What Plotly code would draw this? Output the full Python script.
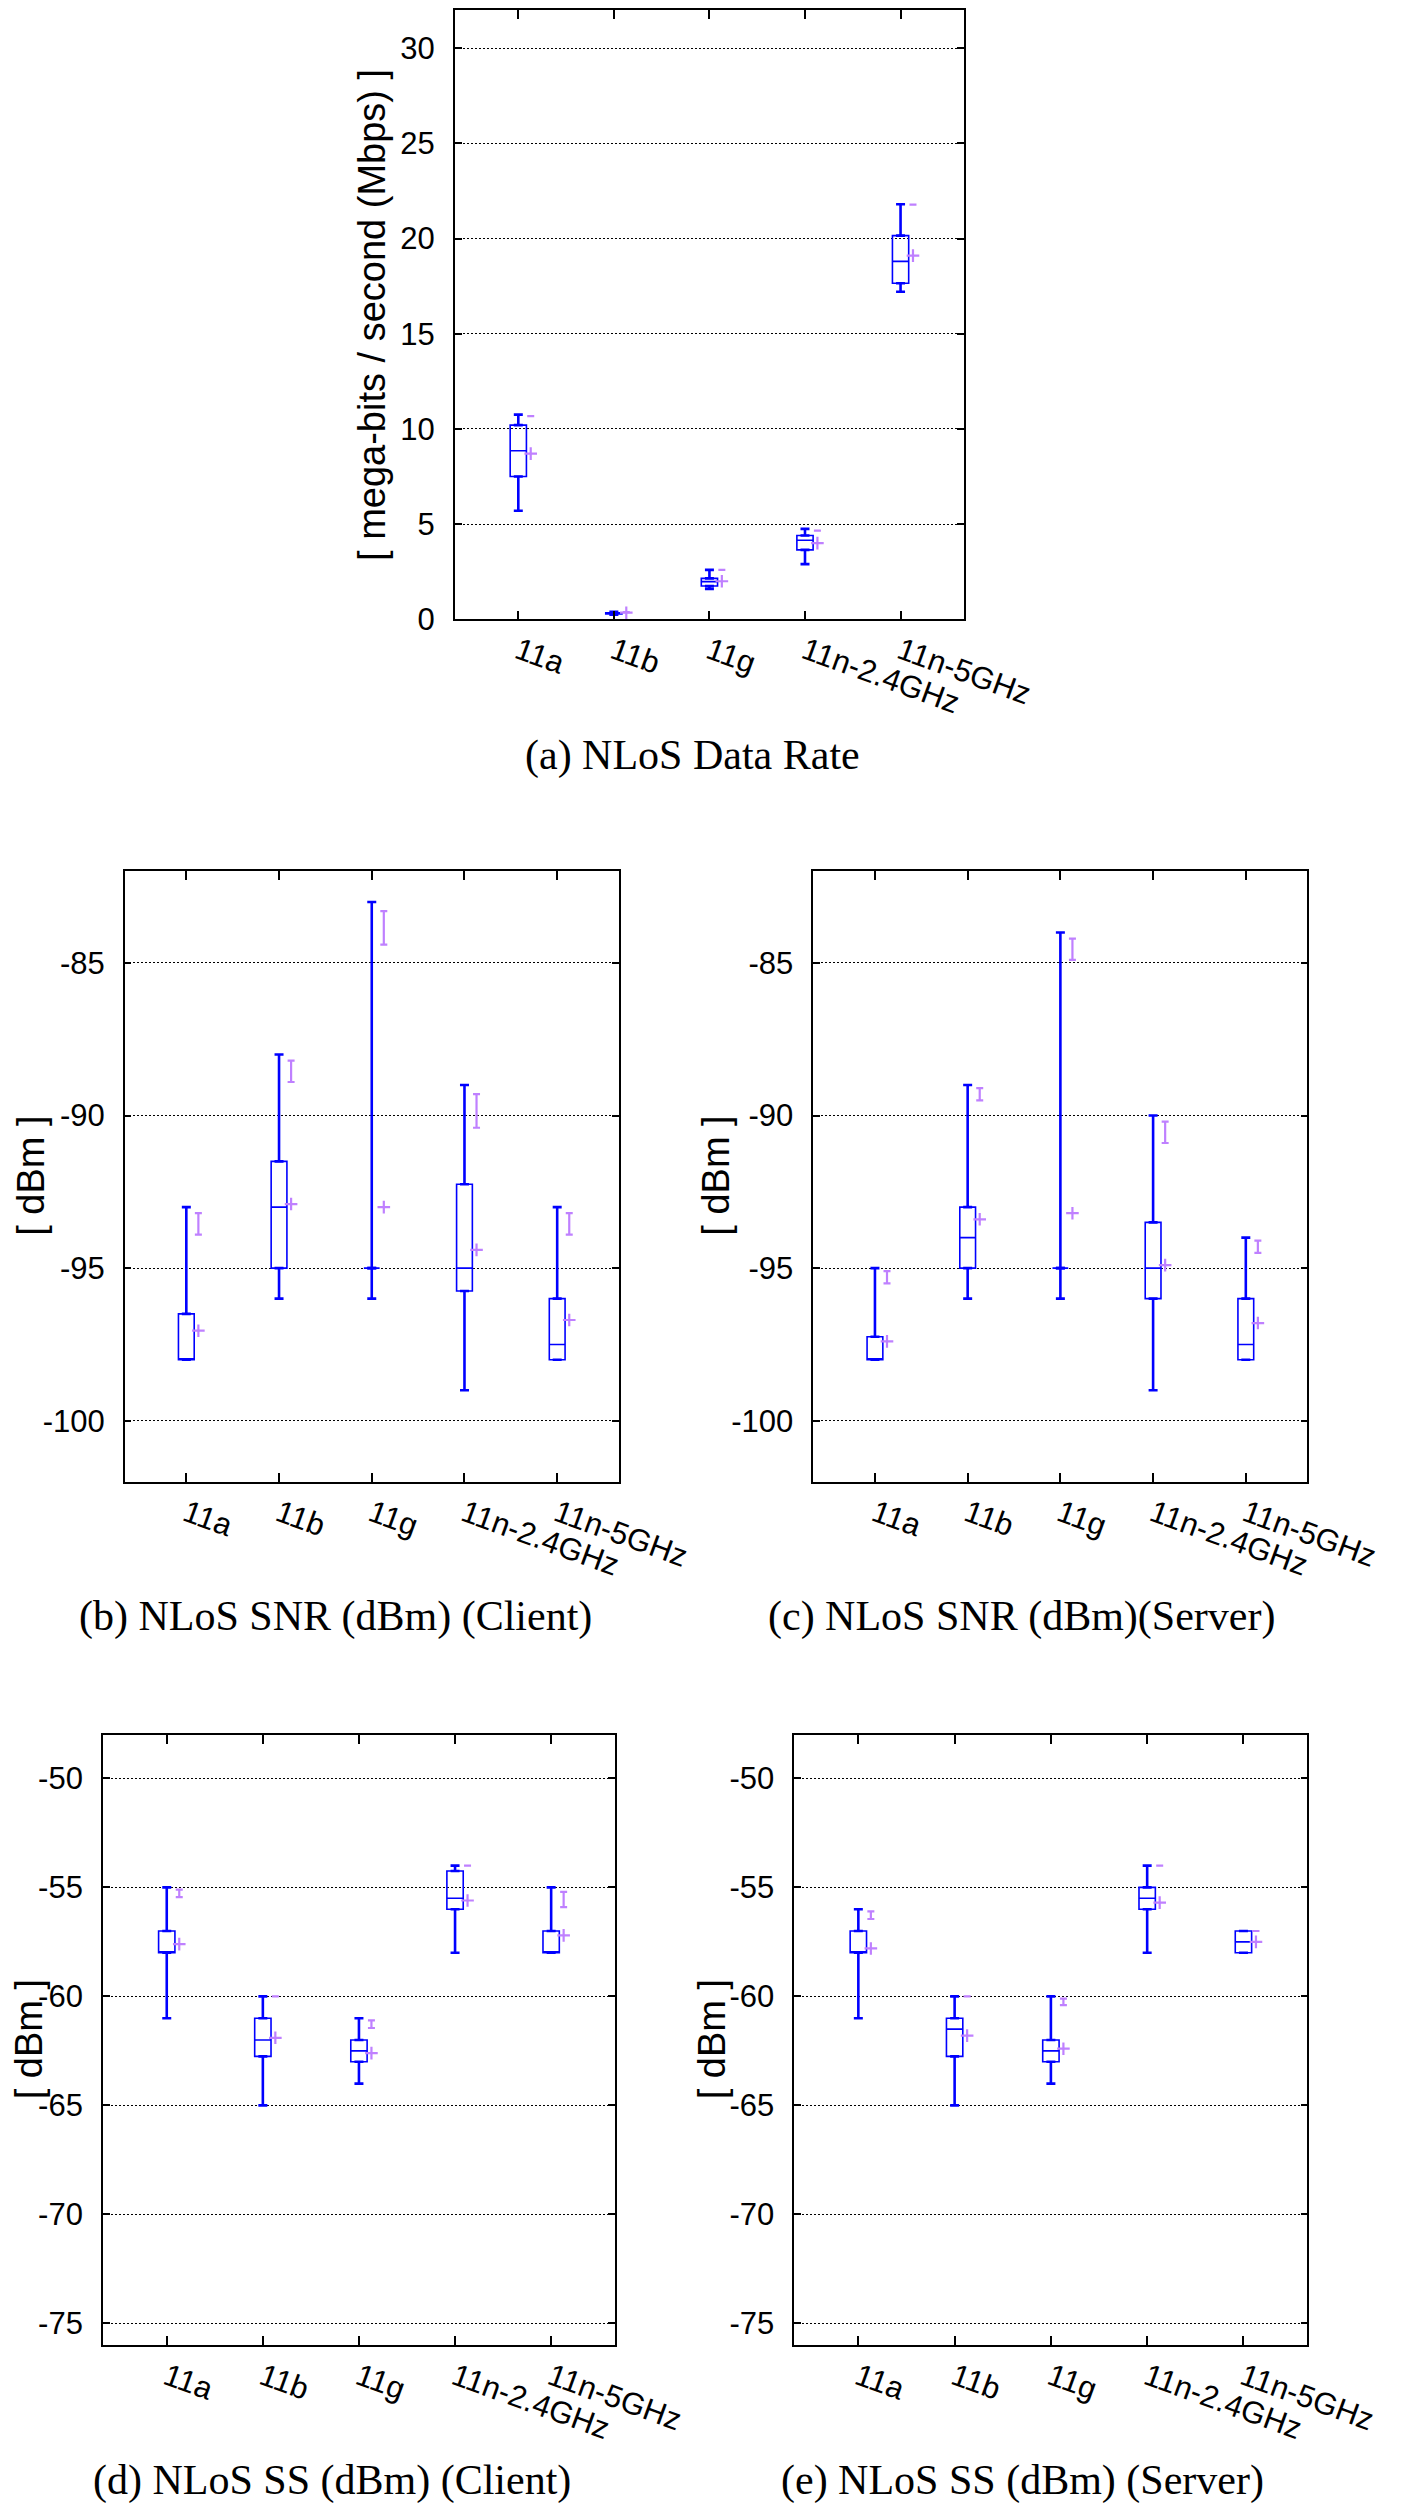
import plotly.graph_objects as go

# ---------------- data ----------------
categories = ["11a", "11b", "11g", "11n-2.4GHz", "11n-5GHz"]
positions = [1, 2, 3, 4, 5]

# (a) NLoS Data Rate (Mbps)
rate_min = [5.7, 0.25, 1.6, 2.9, 17.2]
rate_q1 = [7.5, 0.28, 1.75, 3.65, 17.65]
rate_med = [8.85, 0.31, 1.98, 4.15, 18.8]
rate_q3 = [10.2, 0.35, 2.15, 4.4, 20.15]
rate_max = [10.75, 0.4, 2.6, 4.75, 21.8]
rate_mean = [8.7, 0.35, 2.0, 4.0, 19.1]
rate_ci_lo = [10.67, 0.38, 2.6, 4.66, 21.78]
rate_ci_hi = [10.67, 0.38, 2.6, 4.66, 21.78]

# (b) NLoS SNR (dBm) (Client)
snrc_min = [-98, -96, -96, -99, -98]
snrc_q1 = [-98, -95, -95, -95.75, -98]
snrc_med = [-98, -93, -95, -95, -97.5]
snrc_q3 = [-96.5, -91.5, -95, -92.25, -96]
snrc_max = [-93, -88, -83, -89, -93]
snrc_mean = [-97.05, -92.9, -93.0, -94.4, -96.7]
snrc_ci_lo = [-93.9, -88.9, -84.4, -90.4, -93.9]
snrc_ci_hi = [-93.2, -88.2, -83.3, -89.3, -93.2]

# (c) NLoS SNR (dBm) (Server)
snrs_min = [-98, -96, -96, -99, -98]
snrs_q1 = [-98, -95, -95, -96, -98]
snrs_med = [-98, -94, -95, -95, -97.5]
snrs_q3 = [-97.25, -93, -95, -93.5, -96]
snrs_max = [-95, -89, -84, -90, -94]
snrs_mean = [-97.4, -93.4, -93.2, -94.9, -96.8]
snrs_ci_lo = [-95.5, -89.5, -84.9, -90.9, -94.5]
snrs_ci_hi = [-95.1, -89.1, -84.2, -90.2, -94.1]

# (d) NLoS SS (dBm) (Client)
ssc_min = [-61, -65, -64, -58, -58]
ssc_q1 = [-58, -62.75, -63, -56, -58]
ssc_med = [-58, -62, -62.5, -55.5, -58]
ssc_q3 = [-57, -61, -62, -54.25, -57]
ssc_max = [-55, -60, -61, -54, -55]
ssc_mean = [-57.6, -61.9, -62.6, -55.6, -57.2]
ssc_ci_lo = [-55.45, -60.0, -61.45, -54.0, -55.9]
ssc_ci_hi = [-55.1, -60.0, -61.1, -54.0, -55.2]

# (e) NLoS SS (dBm) (Server)
sss_min = [-61, -65, -64, -58, -58]
sss_q1 = [-58, -62.75, -63, -56, -58]
sss_med = [-58, -61.5, -62.5, -55.5, -57.5]
sss_q3 = [-57, -61, -62, -55, -57]
sss_max = [-56, -60, -60, -54, -57]
sss_mean = [-57.8, -61.8, -62.4, -55.7, -57.5]
sss_ci_lo = [-56.45, -60.0, -60.4, -54.0, -57.0]
sss_ci_hi = [-56.1, -60.0, -60.1, -54.0, -57.0]

y_titles = ["[ mega-bits / second (Mbps) ]", "[ dBm ]", "[ dBm ]", "[ dBm ]", "[ dBm ]"]
captions = ["(a) NLoS Data Rate", "(b) NLoS SNR (dBm) (Client)",
            "(c) NLoS SNR (dBm)(Server)", "(d) NLoS SS (dBm) (Client)",
            "(e) NLoS SS (dBm) (Server)"]
y_ranges = [[0, 32], [-102, -82], [-102, -82], [-76, -48], [-76, -48]]
y_ticks = [[0, 5, 10, 15, 20, 25, 30],
           [-100, -95, -90, -85], [-100, -95, -90, -85],
           [-75, -70, -65, -60, -55, -50], [-75, -70, -65, -60, -55, -50]]

panels = [
    (rate_min, rate_q1, rate_med, rate_q3, rate_max, rate_mean, rate_ci_lo, rate_ci_hi),
    (snrc_min, snrc_q1, snrc_med, snrc_q3, snrc_max, snrc_mean, snrc_ci_lo, snrc_ci_hi),
    (snrs_min, snrs_q1, snrs_med, snrs_q3, snrs_max, snrs_mean, snrs_ci_lo, snrs_ci_hi),
    (ssc_min, ssc_q1, ssc_med, ssc_q3, ssc_max, ssc_mean, ssc_ci_lo, ssc_ci_hi),
    (sss_min, sss_q1, sss_med, sss_q3, sss_max, sss_mean, sss_ci_lo, sss_ci_hi),
]

# ---------------- layout geometry (pixels) ----------------
W, H = 1418, 2509
plot_px = [  # left, right, top, bottom
    (471, 1008, 1, 615),
    (123, 644, 869, 1484),
    (849, 1370, 869, 1484),
    (100, 640, 1739, 2354),
    (829, 1370, 1739, 2354),
]
ytitle_px = [(383, 308), (24, 1176), (746, 1176), (22, 2046), (742, 2046)]
caption_px = [(722, 752), (345, 1620), (1068, 1620), (342, 2490), (1070, 2490)]

BLUE = "#0000ff"
PURPLE = "#bf80ff"
SANS = "Liberation Sans, Arial, sans-serif"
SERIF = "Liberation Serif, Times New Roman, serif"
OFFSET = 0.13

fig = go.Figure()
layout = dict(
    width=W, height=H, margin=dict(l=0, r=0, t=0, b=0),
    paper_bgcolor="white", plot_bgcolor="white", showlegend=False,
    annotations=[],
)

for i, (mn, q1, med, q3, mx, mean, lo, hi) in enumerate(panels):
    k = "" if i == 0 else str(i + 1)
    xa, ya = "x" + k, "y" + k
    # whiskers (thicker lines with caps)
    fig.add_trace(go.Scatter(
        x=positions, y=q3, mode="markers",
        marker=dict(size=1, color="rgba(0,0,0,0)"),
        error_y=dict(type="data", symmetric=False,
                     array=[a - b for a, b in zip(mx, q3)], arrayminus=[0] * 5,
                     color=BLUE, thickness=2.6, width=4.5),
        xaxis=xa, yaxis=ya, hoverinfo="skip"))
    fig.add_trace(go.Scatter(
        x=positions, y=q1, mode="markers",
        marker=dict(size=1, color="rgba(0,0,0,0)"),
        error_y=dict(type="data", symmetric=False,
                     array=[0] * 5, arrayminus=[a - b for a, b in zip(q1, mn)],
                     color=BLUE, thickness=2.6, width=4.5),
        xaxis=xa, yaxis=ya, hoverinfo="skip"))
    # boxes (quartiles + median)
    fig.add_trace(go.Box(
        x=positions, q1=q1, median=med, q3=q3, lowerfence=q1, upperfence=q3,
        width=0.17, whiskerwidth=0, boxpoints=False,
        line=dict(color=BLUE, width=1.6), fillcolor="rgba(255,255,255,0)",
        xaxis=xa, yaxis=ya, hoverinfo="skip"))
    xs = [p + OFFSET for p in positions]
    fig.add_trace(go.Scatter(
        x=xs, y=lo, mode="markers",
        marker=dict(size=1, color="rgba(0,0,0,0)"),
        error_y=dict(type="data", symmetric=False,
                     array=[h - l for h, l in zip(hi, lo)],
                     arrayminus=[0] * len(lo),
                     color=PURPLE, thickness=2.2, width=3.5),
        xaxis=xa, yaxis=ya, hoverinfo="skip"))
    fig.add_trace(go.Scatter(
        x=xs, y=mean, mode="markers",
        marker=dict(symbol="cross-thin", size=9, line=dict(color=PURPLE, width=2.2)),
        xaxis=xa, yaxis=ya, hoverinfo="skip"))

    l, r, t, b = plot_px[i]
    layout["xaxis" + k] = dict(
        domain=[l / W, r / W], anchor=ya, range=[0.335, 5.665],
        tickmode="array", tickvals=positions, ticktext=categories,
        tickangle=20, ticks="inside", ticklen=9, tickwidth=1.5, tickcolor="black",
        mirror="allticks", showline=True, linecolor="black", linewidth=1.5,
        showgrid=False, zeroline=False,
        tickfont=dict(family=SANS, size=31, color="black"))
    layout["yaxis" + k] = dict(
        domain=[1 - b / H, 1 - t / H], anchor=xa, range=y_ranges[i],
        tickmode="array", tickvals=y_ticks[i], ticktext=[str(v) for v in y_ticks[i]],
        ticks="inside", ticklen=7, tickwidth=1.5, tickcolor="black",
        mirror="allticks", showline=True, linecolor="black", linewidth=1.5,
        showgrid=True, gridcolor="black", gridwidth=1, griddash="2px,2px",
        zeroline=False, ticklabelstandoff=12,
        tickfont=dict(family=SANS, size=31, color="black"))

    tx, ty = ytitle_px[i]
    layout["annotations"].append(dict(
        text=y_titles[i], x=tx / W, y=1 - ty / H, xref="paper", yref="paper",
        textangle=-90, showarrow=False, xanchor="center", yanchor="middle",
        borderpad=0, font=dict(family=SANS, size=38, color="black")))
    cx, cy = caption_px[i]
    layout["annotations"].append(dict(
        text=captions[i], x=cx / W, y=1 - cy / H, xref="paper", yref="paper",
        showarrow=False, xanchor="center", yanchor="middle",
        font=dict(family=SERIF, size=42, color="black")))

fig.update_layout(**layout)
fig.write_html("out.html")
